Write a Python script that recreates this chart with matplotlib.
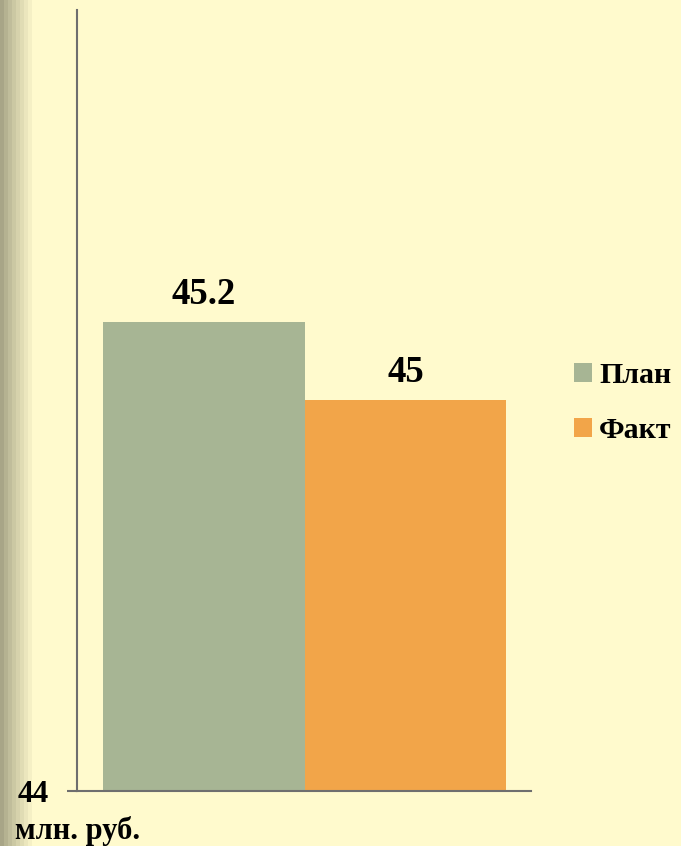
import numpy as np
import matplotlib.pyplot as plt
from matplotlib.patches import Patch

series = ['План', 'Факт']
values = [45.2, 45.0]
value_labels = ['45.2', '45']
colors = ['#A7B594', '#F2A549']
y_min, y_max = 44, 46
unit_label = 'млн. руб.'

bg = '#FFFACD'
axis_color = '#6E6E6E'
font = 'Liberation Serif'

fig = plt.figure(figsize=(6.81, 8.46), dpi=100)
fig.patch.set_facecolor(bg)

# banded strip on the left edge
strip = fig.add_axes([0, 0, 36 / 681, 1])
left = np.array([168, 165, 135]) / 255
right = np.array([255, 250, 205]) / 255
steps = np.linspace(0, 1, 9) ** 0.9
grad = np.array([left + (right - left) * t for t in steps])[None, :, :]
strip.imshow(grad, aspect='auto', interpolation='nearest')
strip.set_axis_off()

ax = fig.add_axes([76.5 / 681, 55.3 / 846, 454 / 681, 781 / 846])
ax.set_facecolor(bg)

x = np.arange(len(series))
ax.bar(x, [v - y_min for v in values], bottom=y_min, width=1.0, color=colors)
ax.set_xlim(-0.63, 1.62)
ax.set_ylim(y_min, y_max)

for xi, v, lab in zip(x, values, value_labels):
    ax.annotate(lab, (xi, v), xytext=(0, 13), textcoords='offset points',
                ha='center', va='baseline', fontsize=26.5, fontweight='bold',
                family=font)

for s in ['top', 'right']:
    ax.spines[s].set_visible(False)
for s in ['left', 'bottom']:
    ax.spines[s].set_color(axis_color)
    ax.spines[s].set_linewidth(1.5)

ax.set_xticks([])
ax.set_yticks([y_min])
ax.set_yticklabels(['44'])
ax.tick_params(axis='y', length=7, width=1.5, color=axis_color, pad=13)
for t in ax.get_yticklabels():
    t.set_fontfamily(font)
    t.set_fontsize(22.5)
    t.set_fontweight('bold')

fig.text(15 / 681, 1 - 839 / 846, unit_label, ha='left', va='baseline',
         fontsize=22, fontweight='bold', family=font)

handles = [Patch(facecolor=c, label=s) for s, c in zip(series, colors)]
fig.legend(handles=handles, loc='upper left',
           bbox_to_anchor=(559 / 681, 1 - 347 / 846), frameon=False,
           prop={'family': font, 'size': 21.5, 'weight': 'bold'},
           handlelength=0.6, handleheight=0.6, handletextpad=0.25,
           labelspacing=0.95, borderpad=0)

fig.savefig('out.png', dpi=100, facecolor=bg)
